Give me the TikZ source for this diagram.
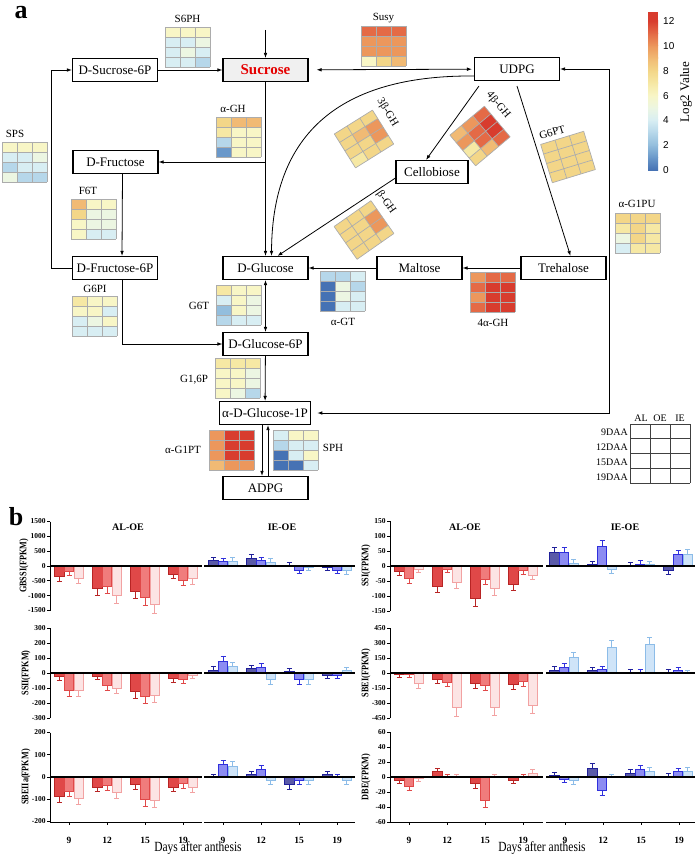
\documentclass[tikz,border=0pt]{standalone}
\usepackage{fontspec}
\setmainfont{Liberation Serif}
\newfontfamily\cbarfont{Liberation Sans}
\newfontfamily\narrowfont[FakeStretch=0.82]{Liberation Serif}
\usetikzlibrary{arrows.meta}

% heat map scale (Log2 value 0..12)
\definecolor{hm0}{HTML}{4672B4}
\definecolor{hm1}{HTML}{6A98CA}
\definecolor{hm2}{HTML}{93BEDD}
\definecolor{hm3}{HTML}{B6D7EA}
\definecolor{hm4}{HTML}{D8EEF3}
\definecolor{hm5}{HTML}{ECF6E2}
\definecolor{hm6}{HTML}{F8F6C6}
\definecolor{hm7}{HTML}{F6E8A4}
\definecolor{hm8}{HTML}{F3D688}
\definecolor{hm9}{HTML}{F1BA74}
\definecolor{hm10}{HTML}{EC975C}
\definecolor{hm11}{HTML}{E46A46}
\definecolor{hm12}{HTML}{D83C2E}
% bar colours
\definecolor{alfill0}{HTML}{E04848}
\definecolor{aledge0}{HTML}{B82424}
\definecolor{alfill1}{HTML}{F07C7C}
\definecolor{aledge1}{HTML}{E04848}
\definecolor{alfill2}{HTML}{FCE4E4}
\definecolor{aledge2}{HTML}{F2A2A2}
\definecolor{iefill0}{HTML}{5A5AA8}
\definecolor{ieedge0}{HTML}{20209A}
\definecolor{iefill1}{HTML}{8C8CF2}
\definecolor{ieedge1}{HTML}{3030DC}
\definecolor{iefill2}{HTML}{CFE4F8}
\definecolor{ieedge2}{HTML}{8CBCE8}

\tikzset{
  box/.style={draw, line width=1.1pt, minimum width=85pt, minimum height=23pt, inner sep=3pt, font=\fontsize{13}{15}\selectfont},
  arr/.style={-{Latex[length=5pt,width=3.6pt]}, line width=0.8pt},
  arrr/.style={{Latex[length=5pt,width=3.6pt]}-{Latex[length=5pt,width=3.6pt]}, line width=0.8pt},
  hmlab/.style={font=\fontsize{11}{13}\selectfont, inner sep=1pt},
  cellline/.style={draw=gray!65, line width=0.7pt},
  keyline/.style={draw=black!75, line width=0.6pt},
  keylab/.style={font=\fontsize{10}{12}\selectfont, inner sep=1pt},
  axisline/.style={line width=0.9pt},
  zeroline/.style={line width=1.3pt},
  ticklab/.style={font=\fontsize{7.5}{9}\selectfont\bfseries, inner sep=1pt, anchor=east},
  ylab/.style={font=\narrowfont\fontsize{10}{12}\selectfont\bfseries, rotate=90},
  paneltitle/.style={font=\fontsize{10}{12}\selectfont\bfseries},
  grouplab/.style={font=\fontsize{9.5}{11}\selectfont\bfseries},
  xtitle/.style={font=\narrowfont\fontsize{14}{16}\selectfont},
  panelletter/.style={font=\fontsize{26}{28}\selectfont\bfseries, anchor=base, inner sep=0pt}
}

% 3 x 4 heat map, top left corner at (#1,#2)
\newcommand{\heatgrid}[3]{%
  \foreach \hv [count=\hi from 0] in {#3} {
    \pgfmathtruncatemacro\hcol{mod(\hi,3)}
    \pgfmathtruncatemacro\hrow{\hi/3}
    \fill[hm\hv] (#1+15*\hcol,#2+10*\hrow) rectangle ++(15,10);
  }
  \foreach \k in {0,15,30,45} \draw[cellline] (#1+\k,#2) -- ++(0,40);
  \foreach \k in {0,10,20,30,40} \draw[cellline] (#1,#2+\k) -- ++(45,0);
}

% bars: left x, zero y, px per unit, colour set, groups
\newcommand{\barset}[5]{%
  \foreach \va/\vb/\vc [count=\gi from 0] in {#5} {
    \foreach \val [count=\bi from 0] in {\va,\vb,\vc} {
      \pgfmathsetmacro\bx{#1+19+38*\gi+9.7*(\bi-1)}
      \pgfmathsetmacro\bt{#2-(\val)*#3}
      \pgfmathsetmacro\be{\bt-((\val)>=0?1:-1)*(0.16*abs(\val)*#3+3)}
      \filldraw[fill=#4fill\bi, draw=#4edge\bi, line width=0.6pt] (\bx-4.6,#2) rectangle (\bx+4.6,\bt);
      \draw[#4edge\bi, line width=0.5pt] (\bx,\bt) -- (\bx,\be) (\bx-2.5,\be) -- (\bx+2.5,\be);
    }
  }
}

% y axis: x, zero y, px per unit, top value, ticks, label, label x
\newcommand{\yaxis}[7]{%
  \draw[axisline] (#1,{#2-#4*#3}) -- (#1,{#2+#4*#3});
  \foreach \t in {#5} \draw[axisline] (#1,{#2-(\t)*#3}) -- ++(-3,0) node[ticklab] {\t};
  \node[ylab] at (#7,#2) {#6};
}

% bottom axis of the last row
\newcommand{\xaxis}[2]{%
  \draw[axisline] (#1,822) -- (#2,822);
  \foreach \gl [count=\gi from 0] in {9,12,15,19} {
    \draw[axisline] (#1+19+38*\gi,822) -- ++(0,3);
    \node[grouplab] at (#1+19+38*\gi,840) {\gl};
  }
}

\begin{document}
\begin{tikzpicture}[x=1pt, y=-1pt]
\useasboundingbox (0,0) rectangle (700,856);

\node[panelletter] (pa) at (21,19) {a};
\node[panelletter] (pb) at (16,525) {b};

% metabolites
\node[box] (sucrose6p) at (115,70) {D-Sucrose-6P};
\node[box, fill=gray!12, text=red!90!black, font=\fontsize{15}{17}\selectfont\bfseries] (sucrose) at (265.5,70) {Sucrose};
\node[box] (udpg) at (517,69) {UDPG};
\node[box] (fructose) at (115.5,162) {D-Fructose};
\node[box] (fructose6p) at (115,268) {D-Fructose-6P};
\node[box] (glucose) at (265.5,268) {D-Glucose};
\node[box] (glucose6p) at (265.5,344) {D-Glucose-6P};
\node[box] (glucose1p) at (265,413) {α-D-Glucose-1P};
\node[box] (adpg) at (265.5,488) {ADPG};
\node[box, minimum width=72pt] (cellobiose) at (432,172) {Cellobiose};
\node[box] (maltose) at (419.5,268) {Maltose};
\node[box] (trehalose) at (563.5,268) {Trehalose};

% reactions
\coordinate (sucin) at (265.5,30);
\coordinate (aghbr) at (265.5,162);
\coordinate (g1pu) at (609,413);
\draw[arr] (sucin) -- (sucrose);
\draw[arr] (sucrose6p) -- (sucrose);
\draw[arrr, shorten <=8pt, shorten >=2pt] (sucrose) -- (udpg);
\draw[arr] (sucrose) -- (glucose);
\draw[arr] (aghbr) -- (fructose);
\draw[arr] ([xshift=7pt]fructose.south) -- ([xshift=7pt]fructose6p.north);
\draw[arr] (fructose6p.west) -- ++(-21,0) |- (sucrose6p.west);
\draw[arr] ([xshift=7pt]fructose6p.south) |- (glucose6p.west);
\draw[arrr] (glucose) -- (glucose6p);
\draw[arr] (glucose6p) -- (glucose1p);
\draw[arr] ([xshift=-3pt]glucose1p.south) -- ([xshift=-3.5pt]adpg.north);
\draw[arr] ([xshift=2.5pt]adpg.north) -- ([xshift=3pt]glucose1p.south);
\draw[arr] ([yshift=-7pt]udpg.west) .. controls (350,75) and (272,125) .. ([xshift=6pt]glucose.north);
\draw[arr] ([xshift=5pt,yshift=-5pt]udpg.south west) -- ([xshift=-6pt]cellobiose.north);
\draw[arr] ([yshift=-6pt]cellobiose.west) -- ([xshift=12pt]glucose.north);
\draw[arr] ([yshift=-5pt]udpg.south) -- ([xshift=7pt]trehalose.north);
\draw[arr] (trehalose) -- (maltose);
\draw[arr] (maltose) -- (glucose);
\draw[arrr, shorten <=6pt] (glucose1p.east) -- (g1pu) |- (udpg.east);

% enzyme heat maps
\heatgrid{165}{27}{6,6,6,4,4,5,4,5,4,4,4,3}
\node[hmlab] (s6ph) at (187.5,19) {S6PH};
\heatgrid{361}{26}{11,11,11,10,10,10,10,10,10,6,8,9}
\node[hmlab] (susy) at (383.5,18) {Susy};
\heatgrid{2}{142}{6,6,6,4,4,5,3,4,4,5,3,3}
\node[hmlab] (sps) at (15,134) {SPS};
\heatgrid{216}{117}{8,9,9,7,6,6,3,6,6,1,6,6}
\node[hmlab] (agh) at (233,109) {α-GH};
\heatgrid{71}{199}{9,6,6,8,5,5,6,5,5,6,4,4}
\node[hmlab] (f6t) at (88,191) {F6T};
\heatgrid{72}{296}{7,6,6,6,6,4,4,5,6,4,4,4}
\node[hmlab] (g6pi) at (95,289) {G6PI};
\heatgrid{216}{285}{7,6,6,4,6,5,2,6,5,3,4,4}
\node[hmlab] (g6t) at (199,306) {G6T};
\heatgrid{215}{358}{7,7,7,6,6,5,6,6,5,6,5,3}
\node[hmlab] (g16p) at (194,380) {G1,6P};
\heatgrid{209}{430}{10,12,12,10,12,12,10,12,12,9,10,10}
\node[hmlab] (ag1pt) at (183,450) {α-G1PT};
\heatgrid{273}{430}{4,6,6,3,4,4,0,4,6,0,0,4}
\node[hmlab] (sph) at (333,448) {SPH};
\heatgrid{320}{271}{3,3,4,0,5,3,0,5,4,0,4,4}
\node[hmlab] (agt) at (343,322) {α-GT};
\heatgrid{470}{272}{10,11,11,11,12,12,10,12,12,11,12,12}
\node[hmlab] (gh4a) at (493,323) {4α-GH};
\heatgrid{615}{213}{8,8,8,7,8,7,5,8,7,4,7,7}
\node[hmlab] (ag1pu) at (637,204) {α-G1PU};

\begin{scope}[shift={(364,139)}, rotate=32]
  \heatgrid{-22.5}{-20}{8,8,8,8,9,10,8,8,10,7,8,8}
  \node[hmlab, rotate=-58] (gh3b) at (34,-10) {3β-GH};
\end{scope}
\begin{scope}[shift={(480,136)}, rotate=40]
  \heatgrid{-22.5}{-20}{9,10,11,10,11,12,7,11,12,8,9,11}
  \node[hmlab, rotate=-50] (gh4b) at (34,-12) {4β-GH};
\end{scope}
\begin{scope}[shift={(364,230)}, rotate=35]
  \heatgrid{-22.5}{-20}{8,8,8,8,8,10,8,8,10,8,8,8}
  \node[hmlab, rotate=-55] (ghb) at (34,-10) {β-GH};
\end{scope}
\begin{scope}[shift={(568,157)}, rotate=17]
  \heatgrid{-22.5}{-20}{8,8,8,8,8,8,8,8,8,8,8,8}
  \node[hmlab, rotate=17] (g6pt) at (-8,-28) {G6PT};
\end{scope}

% colour bar
\foreach \k [evaluate=\k as \kk using int(\k+1)] in {0,...,11}
  \shade[bottom color=hm\k, top color=hm\kk] (648,170-12.4*\k) rectangle (658,169.6-12.4*\k-12.4);
\fill[hm12] (648,21.2) rectangle (658,12);
\foreach \k in {0,2,...,12}
  \node[anchor=west, font=\cbarfont\fontsize{10}{12}\selectfont, inner sep=1pt] (cb\k) at (662,170-12.4*\k) {\k};
\node[rotate=90, font=\fontsize{13}{15}\selectfont] (cbtitle) at (686,92) {Log2 Value};

% key of the heat maps
\foreach \k in {0,20,40,60} \draw[keyline] (630+\k,424) -- ++(0,59);
\foreach \k in {0,14.75,29.5,44.25,59} \draw[keyline] (630,424+\k) -- ++(60,0);
\node[keylab] (kal) at (641,418) {AL};
\node[keylab] (koe) at (660,418) {OE};
\node[keylab] (kie) at (680,418) {IE};
\node[keylab, anchor=east] (k9) at (629,432) {9DAA};
\node[keylab, anchor=east] (k12) at (629,447) {12DAA};
\node[keylab, anchor=east] (k15) at (629,462) {15DAA};
\node[keylab, anchor=east] (k19) at (629,477) {19DAA};

% GBSSI / SSI
\barset{50}{566}{0.02967}{al}{-350/-180/-400, -760/-700/-1000, -850/-1050/-1300, -280/-480/-430}
\barset{204}{566}{0.02967}{ie}{180/150/170, 250/180/140, 20/-130/-50, -40/-130/-160}
\draw[zeroline] (50,566) -- (202,566);
\draw[zeroline] (204,566) -- (355,566);
\yaxis{50}{566}{0.02967}{1500}{-1500,-1000,-500,0,500,1000,1500}{GBSSI(FPKM)}{24}
\barset{390}{566}{0.3}{al}{-18/-40/-10, -68/-10/-55, -108/-45/-75, -62/-15/-30}
\barset{545}{566}{0.3}{ie}{45/45/10, 5/65/-12, 2/7/5, -15/38/40}
\draw[zeroline] (390,566) -- (543,566);
\draw[zeroline] (546,566) -- (695,566);
\yaxis{390}{566}{0.3}{150}{-150,-100,-50,0,50,100,150}{SSI(FPKM)}{366}
\node[paneltitle] (t1) at (128,527) {AL-OE};
\node[paneltitle] (t2) at (282,527) {IE-OE};
\node[paneltitle] (t3) at (465,527) {AL-OE};
\node[paneltitle] (t4) at (625,527) {IE-OE};

% SSII / SBEI
\barset{50}{673}{0.15}{al}{-25/-115/-115, -20/-80/-100, -125/-155/-150, -35/-40/-15}
\barset{204}{673}{0.15}{ie}{20/80/45, 30/40/-45, 10/-45/-45, -15/-15/15}
\draw[zeroline] (50,673) -- (202,673);
\draw[zeroline] (204,673) -- (355,673);
\yaxis{50}{673}{0.15}{300}{-300,-200,-100,0,100,200,300}{SSII(FPKM)}{26}
\barset{390}{673}{0.1}{al}{-15/-15/-105, -60/-90/-345, -105/-120/-340, -115/-85/-320}
\barset{545}{673}{0.1}{ie}{30/60/155, 25/35/255, 10/5/285, 5/25/0}
\draw[zeroline] (390,673) -- (543,673);
\draw[zeroline] (546,673) -- (695,673);
\yaxis{390}{673}{0.1}{450}{-450,-300,-150,0,150,300,450}{SBEI(FPKM)}{366}

% SBEIIa / DBE
\barset{50}{777}{0.2225}{al}{-88/-62/-95, -45/-38/-70, -35/-100/-105, -45/-30/-48}
\barset{204}{777}{0.2225}{ie}{0/55/50, 10/35/-15, -35/-15/-15, 10/0/-15}
\draw[zeroline] (50,777) -- (202,777);
\draw[zeroline] (204,777) -- (355,777);
\yaxis{50}{777}{0.2225}{200}{-200,-100,0,100,200}{SBEIIa(FPKM)}{26}
\barset{390}{777}{0.75}{al}{-4/-12/-2, 7/0/0, -9/-31/0, -4/0/5}
\barset{545}{777}{0.75}{ie}{2/-3/-5, 12/-18/0, 5/10/8, 1/7/8}
\draw[zeroline] (390,777) -- (543,777);
\draw[zeroline] (546,777) -- (695,777);
\yaxis{390}{777}{0.75}{60}{-60,-40,-20,0,20,40,60}{DBE(FPKM)}{366}

\xaxis{50}{202}
\xaxis{204}{355}
\xaxis{390}{543}
\xaxis{546}{695}
\node[xtitle] (days1) at (198,848) {Days after anthesis};
\node[xtitle] (days2) at (542,848) {Days after anthesis};
\end{tikzpicture}
\end{document}
